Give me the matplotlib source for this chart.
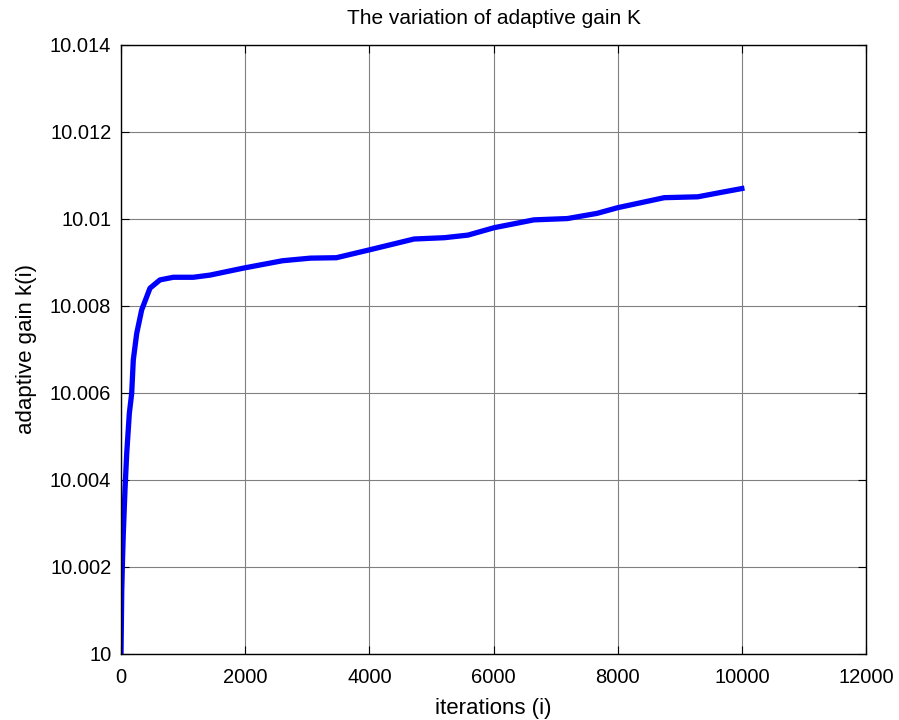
import numpy as np
import matplotlib.pyplot as plt
from matplotlib.ticker import FormatStrFormatter

plt.rcParams['font.family'] = ['Liberation Sans', 'DejaVu Sans']

# curve: iteration, gain
iterations = [0, 12, 25, 37, 64, 92, 134, 172, 198, 253, 333, 467, 628, 842,
              1164, 1433, 1969, 2600, 3050, 3470, 4000, 4720, 5210, 5590,
              6010, 6650, 7190, 7670, 8000, 8750, 9290, 9660, 10000]
gain = [10.0, 10.00147, 10.0022, 10.00277, 10.00377, 10.00461, 10.00553,
        10.00599, 10.00676, 10.00737, 10.00791, 10.00841, 10.0086, 10.00866,
        10.00866, 10.00871, 10.00887, 10.00904, 10.0091, 10.00911, 10.00929,
        10.00954, 10.00957, 10.00963, 10.0098, 10.00998, 10.01001, 10.01013,
        10.01026, 10.01049, 10.01051, 10.01061, 10.0107]

xticks = np.arange(0, 12001, 2000)
yticks = np.linspace(10.0, 10.014, 8)

fig = plt.figure(figsize=(8.99, 7.2), dpi=100)
ax = fig.add_axes([0.1346, 0.0917, 0.8287, 0.8458])

ax.plot(iterations, gain, color='#0000ff', linewidth=3.8, solid_joinstyle='round')

ax.set_xlim(0, 12000)
ax.set_ylim(10.0, 10.014)
ax.set_xticks(xticks)
ax.set_yticks(yticks)
ax.yaxis.set_major_formatter(FormatStrFormatter('%g'))
ax.grid(True, color='#808080', linewidth=0.8)
ax.set_axisbelow(True)
ax.tick_params(direction='in', top=True, right=True, length=6, labelsize=14.5)
ax.tick_params(axis='x', pad=10)
ax.tick_params(axis='y', pad=7)
for s in ax.spines.values():
    s.set_linewidth(1.0)

ax.set_title('The variation of adaptive gain K', fontsize=15, pad=15)
ax.set_xlabel('iterations (i)', fontsize=16, labelpad=8)
ax.set_ylabel('adaptive gain k(i)', fontsize=16, labelpad=9)

fig.savefig('out.png', dpi=100)
